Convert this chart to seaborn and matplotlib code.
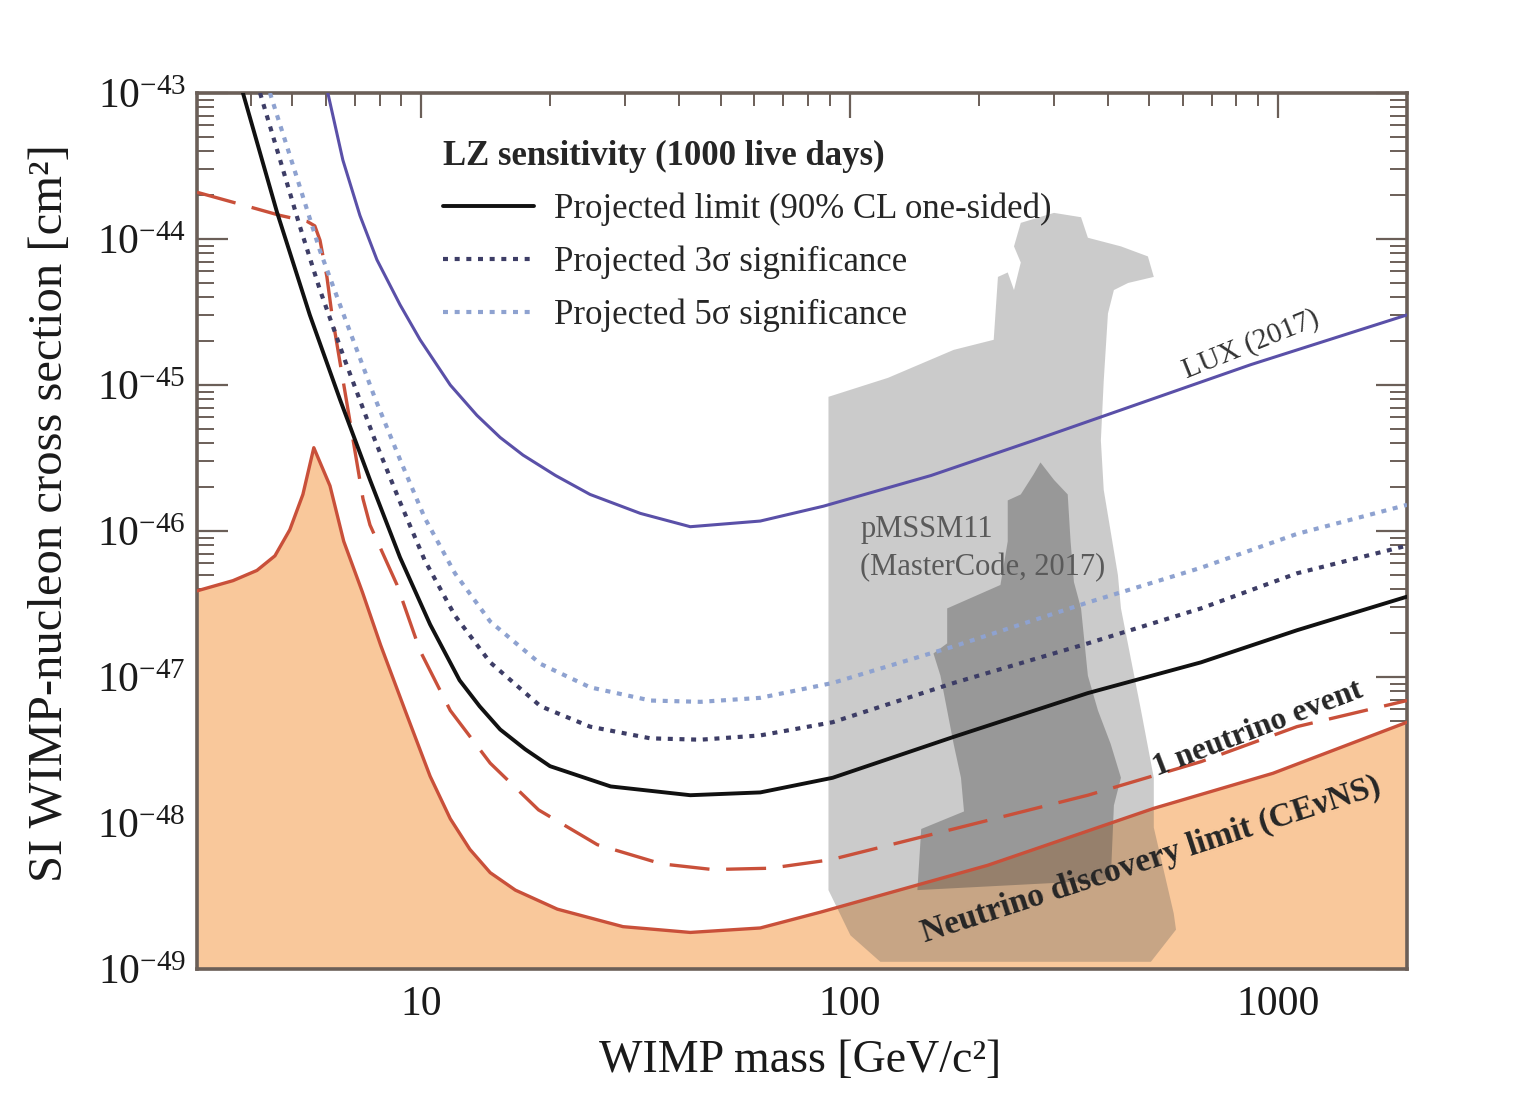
import matplotlib
matplotlib.use("Agg")
import matplotlib.pyplot as plt
import matplotlib.ticker as mticker
from matplotlib.lines import Line2D
import seaborn as sns

# ---- data (mass in GeV/c^2, SI cross section in cm^2) ----
lux_mass = [6.06, 6.57, 7.20, 7.89, 8.93, 9.95, 11.7, 13.5, 15.3, 17.3, 20.6, 24.8,
            32.5, 42.5, 61.9, 87.0, 155, 269, 865, 2000]
lux_xsec = [1.0e-43, 3.47e-44, 1.45e-44, 7.2e-45, 3.55e-45, 2.04e-45, 1.0e-45,
            6.2e-46, 4.37e-46, 3.31e-46, 2.40e-46, 1.78e-46, 1.32e-46, 1.07e-46,
            1.17e-46, 1.48e-46, 2.40e-46, 4.17e-46, 1.38e-45, 3.02e-45]

lz_mass = [3.84, 4.61, 5.50, 6.47, 7.60, 8.93, 10.5, 12.3, 13.7, 15.3, 17.5, 20.0,
           27.7, 42.5, 61.9, 91.3, 175, 360, 661, 1107, 2000]
lz_xsec = [1.0e-43, 1.53e-44, 3.02e-45, 7.94e-46, 2.24e-46, 6.6e-47, 2.29e-47,
           9.5e-48, 6.3e-48, 4.37e-48, 3.2e-48, 2.45e-48, 1.78e-48, 1.55e-48,
           1.62e-48, 2.04e-48, 3.89e-48, 7.76e-48, 1.26e-47, 2.09e-47, 3.55e-47]

s3_mass = [4.21, 4.69, 5.21, 5.81, 6.64, 7.81, 8.93, 10.2, 12.0, 14.5, 19.0, 24.8,
           34.3, 44.9, 61.9, 91.3, 175, 360, 661, 1107, 2000]
s3_xsec = [1.0e-43, 3.47e-44, 1.23e-44, 4.47e-45, 1.48e-45, 4.17e-46, 1.58e-46,
           6.3e-47, 2.63e-47, 1.26e-47, 6.31e-48, 4.57e-48, 3.80e-48, 3.72e-48,
           3.98e-48, 4.9e-48, 9.1e-48, 1.70e-47, 2.95e-47, 5.13e-47, 7.94e-47]

s5_mass = [4.44, 5.21, 5.81, 6.64, 7.81, 8.93, 10.2, 12.0, 14.5, 19.0, 24.8, 34.3,
           44.9, 61.9, 91.3, 175, 360, 661, 1107, 2000]
s5_xsec = [1.0e-43, 2.29e-44, 8.3e-45, 2.88e-45, 8.1e-46, 3.09e-46, 1.23e-46,
           5.13e-47, 2.40e-47, 1.23e-47, 8.5e-48, 6.9e-48, 6.76e-48, 7.2e-48, 9.1e-48,
           1.62e-47, 3.24e-47, 5.6e-47, 9.55e-47, 1.51e-46]

nu1_mass = [3.0, 3.98, 4.69, 5.42, 5.65, 5.81, 6.03, 6.19, 7.32, 7.60, 8.79, 9.95,
            11.7, 14.5, 18.8, 25.8, 36.4, 47.9, 65.3, 90.3, 175, 360, 661, 1107, 2000]
nu1_xsec = [2.09e-44, 1.66e-44, 1.45e-44, 1.32e-44, 1.23e-44, 9.8e-45, 5.5e-45,
            3.09e-45, 1.66e-46, 1.10e-46, 4.27e-47, 1.51e-47, 5.9e-48, 2.57e-48,
            1.23e-48, 7.1e-49, 5.25e-49, 4.8e-49, 4.9e-49, 5.6e-49, 9.1e-49, 1.55e-48,
            2.63e-48, 4.57e-48, 6.9e-48]

floor_mass = [3.0, 3.64, 4.14, 4.56, 4.94, 5.30, 5.62, 6.13, 6.60, 7.30, 8.05, 9.2,
              10.5, 11.7, 13.0, 14.5, 16.6, 20.8, 29.6, 42.5, 61.9, 85.5, 210, 513,
              973, 2000]
floor_xsec = [3.89e-47, 4.57e-47, 5.37e-47, 6.76e-47, 1.02e-46, 1.78e-46, 3.72e-46,
              2.04e-46, 8.5e-47, 3.80e-47, 1.65e-47, 5.8e-48, 2.09e-48, 1.07e-48,
              6.6e-49, 4.57e-49, 3.47e-49, 2.57e-49, 1.95e-49, 1.78e-49, 1.91e-49,
              2.45e-49, 5.13e-49, 1.26e-48, 2.19e-48, 4.9e-48]

# pMSSM11 (MasterCode 2017) regions, outline vertices
pm_outer_mass = [89.3, 123, 175, 217, 222, 234, 242, 251, 242, 251, 300, 347, 360, 430,
                 497, 513, 447, 414, 401, 392, 386, 392, 423, 430, 479, 513, 513, 571,
                 578, 505, 118, 100.5, 89.3]
pm_outer_xsec = [8.3e-46, 1.12e-45, 1.74e-45, 2.04e-45, 5.5e-45, 5.9e-45, 4.47e-45,
                 6.9e-45, 8.9e-45, 1.29e-44, 1.51e-44, 1.41e-44, 1.02e-44, 8.9e-45,
                 7.6e-45, 5.5e-45, 5.0e-45, 4.47e-45, 3.09e-45, 1.07e-45, 4.17e-46,
                 1.91e-46, 5.0e-47, 2.95e-47, 5.9e-48, 2.04e-48, 9.3e-49, 2.4e-49,
                 1.86e-49, 1.12e-49, 1.12e-49, 1.70e-49, 3.47e-49]
pm_inner_mass = [279, 300, 323, 328, 334, 347, 360, 380, 407, 430, 414, 407, 144, 147,
                 185, 182, 175, 169, 163, 157, 169, 169, 225, 234, 234, 251, 269]
pm_inner_xsec = [2.95e-46, 2.24e-46, 1.78e-46, 8.5e-47, 4.47e-47, 2.95e-47, 1.02e-47,
                 5.9e-48, 3.47e-48, 2.04e-48, 1.32e-48, 4.07e-49, 3.47e-49, 9.1e-49,
                 1.20e-48, 2.04e-48, 3.47e-48, 5.9e-48, 1.02e-47, 1.45e-47, 1.70e-47,
                 2.95e-47, 4.27e-47, 8.5e-47, 1.62e-46, 1.78e-46, 2.45e-46]

x_ticks = [10, 100, 1000]
y_ticks = [1e-49, 1e-48, 1e-47, 1e-46, 1e-45, 1e-44, 1e-43]

legend_title = "LZ sensitivity (1000 live days)"
legend_labels = ["Projected limit (90% CL one-sided)",
                 "Projected 3σ significance",
                 "Projected 5σ significance"]

# ---- style ----
RED = "#c9503a"
ORANGE = "#f9c89b"
LUX_BLUE = "#5a50a8"
S3_COL = "#3d3d66"
S5_COL = "#8ea2d0"
DOTS = (0, (1.2, 1.6))
DASHES = (0, (12, 5))

sns.set_theme(style="ticks")
plt.rcParams.update({
    "font.family": ["Liberation Serif", "DejaVu Serif"],
    "mathtext.fontset": "custom",
    "mathtext.rm": "Liberation Serif",
    "mathtext.it": "Liberation Serif:italic",
    "mathtext.bf": "Liberation Serif:bold",
    "xtick.direction": "in", "ytick.direction": "in",
    "xtick.top": True, "ytick.right": True,
    "xtick.minor.visible": True, "ytick.minor.visible": True,
    "axes.edgecolor": "#6b5f58", "axes.linewidth": 2.6,
    "xtick.color": "#6b5f58", "ytick.color": "#6b5f58",
    "xtick.labelcolor": "#1a1a1a", "ytick.labelcolor": "#1a1a1a",
    "xtick.major.size": 18, "ytick.major.size": 22,
    "xtick.minor.size": 9, "ytick.minor.size": 12,
    "xtick.major.width": 1.6, "ytick.major.width": 1.6,
    "xtick.minor.width": 1.4, "ytick.minor.width": 1.4,
    "xtick.labelsize": 30, "ytick.labelsize": 30,
})

fig = plt.figure(figsize=(15.19, 10.95), dpi=100)
ax = fig.add_axes([197 / 1519, 1 - 969 / 1095, 1210 / 1519, 876 / 1095])
ax.set_xscale("log")
ax.set_yscale("log")

# neutrino floor fill and pMSSM11 regions
ax.fill_between(floor_mass, 1e-49, floor_xsec, color=ORANGE, lw=0, zorder=1)
ax.fill(pm_outer_mass, pm_outer_xsec, color="#555555", alpha=0.3, lw=0, zorder=2)
ax.fill(pm_inner_mass, pm_inner_xsec, color="#404040", alpha=0.36, lw=0, zorder=2.1)

# curves
sns.lineplot(x=floor_mass, y=floor_xsec, ax=ax, color=RED, lw=2.4, zorder=4)
sns.lineplot(x=nu1_mass, y=nu1_xsec, ax=ax, color=RED, lw=2.4, linestyle=DASHES, zorder=4)
sns.lineplot(x=lux_mass, y=lux_xsec, ax=ax, color=LUX_BLUE, lw=2.2, zorder=4)
sns.lineplot(x=s5_mass, y=s5_xsec, ax=ax, color=S5_COL, lw=3.0, linestyle=DOTS, zorder=4)
sns.lineplot(x=s3_mass, y=s3_xsec, ax=ax, color=S3_COL, lw=3.0, linestyle=DOTS, zorder=4)
sns.lineplot(x=lz_mass, y=lz_xsec, ax=ax, color="#111111", lw=2.8, zorder=4.5)

ax.set_xlim(3, 2000)
ax.set_ylim(1e-49, 1e-43)
ax.xaxis.set_major_locator(mticker.FixedLocator(x_ticks))
ax.xaxis.set_major_formatter(mticker.FuncFormatter(lambda v, p: f"{v:g}"))
ax.xaxis.set_minor_formatter(mticker.NullFormatter())
ax.yaxis.set_major_locator(mticker.FixedLocator(y_ticks))
ax.yaxis.set_major_formatter(mticker.LogFormatterSciNotation())
ax.yaxis.set_minor_locator(mticker.LogLocator(base=10, subs=range(2, 10), numticks=20))
ax.yaxis.set_minor_formatter(mticker.NullFormatter())
ax.tick_params(axis="x", which="major", pad=12)
ax.tick_params(axis="y", which="major", pad=8)

ax.set_xlabel("WIMP mass [GeV/c²]", fontsize=33, color="#1a1a1a")
ax.set_ylabel("SI WIMP-nucleon cross section [cm²]", fontsize=35, color="#1a1a1a")
ax.xaxis.set_label_coords(0.498, -0.08)
ax.yaxis.set_label_coords(-0.103, 0.52)

# annotations
ax.text(865, 1.9e-45, "LUX (2017)", rotation=22, fontsize=21, color="#333333",
        ha="center", va="center", rotation_mode="anchor", zorder=5)
ax.text(106, 7.6e-47, "pMSSM11\n(MasterCode, 2017)", fontsize=22, color="#5a5a5a",
        ha="left", va="center", linespacing=1.4, zorder=5)
ax.text(900, 4.4e-48, "1 neutrino event", rotation=21, fontsize=23, fontweight="bold",
        ha="center", va="center", rotation_mode="anchor", zorder=5)
ax.text(505, 5.6e-49, "Neutrino discovery limit (CEνNS)", rotation=18, fontsize=24,
        fontweight="bold", ha="center", va="center", rotation_mode="anchor", zorder=5)

handles = [Line2D([], [], color="#111111", lw=2.8),
           Line2D([], [], color=S3_COL, lw=3.0, linestyle=DOTS),
           Line2D([], [], color=S5_COL, lw=3.0, linestyle=DOTS)]
leg = ax.legend(handles, legend_labels, title=legend_title,
                loc="upper left", bbox_to_anchor=(0.2035, 0.946), frameon=False,
                fontsize=25, title_fontsize=25, handlelength=2.6, handletextpad=0.58,
                labelspacing=0.56, borderpad=0, borderaxespad=0, alignment="left")
leg.get_title().set_fontweight("bold")
leg.set_zorder(6)

fig.savefig("out.png", dpi=100, facecolor="white")
